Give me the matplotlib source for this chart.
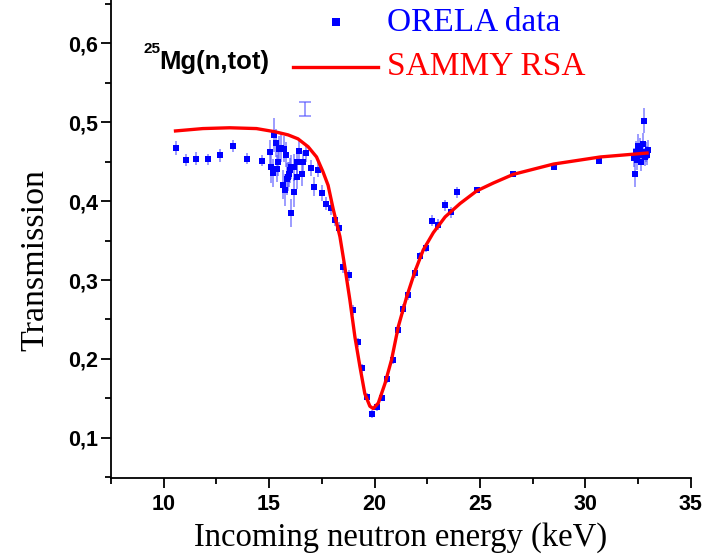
import matplotlib
matplotlib.use("Agg")
import matplotlib.pyplot as plt
from matplotlib.ticker import MultipleLocator, FuncFormatter
from matplotlib.lines import Line2D

# ORELA measured transmission data (energy keV, transmission, uncertainty)
energy = [10.56, 11.04, 11.54, 12.08, 12.65, 13.28, 13.94, 14.65,
          15.22, 15.31, 15.46, 15.55, 15.71, 15.06, 15.82, 15.42, 15.11, 15.19,
          15.36, 15.98, 16.06, 16.18, 15.90, 15.85, 15.95, 16.30, 16.34, 16.41,
          16.61, 16.56, 15.68, 15.74, 16.18, 16.77, 16.98, 17.13, 17.32, 16.03,
          17.51, 17.70, 17.93, 18.12, 18.32,
          18.51, 18.78, 18.99, 19.20, 19.42, 19.65, 19.86, 20.13, 20.37, 20.60,
          20.86, 21.10, 21.36, 21.60, 21.92, 22.16, 22.44, 22.74, 23.03, 23.35,
          23.63, 23.93, 24.88, 26.59, 28.52, 30.67,
          32.30, 32.34, 32.40, 32.45, 32.50, 32.55, 32.60, 32.65, 32.70, 32.75,
          32.80, 32.85, 32.90, 32.95, 32.98]
transmission = [0.467, 0.452, 0.454, 0.453, 0.458, 0.470, 0.454, 0.451,
                0.484, 0.474, 0.466, 0.467, 0.466, 0.462, 0.459, 0.450, 0.443, 0.436,
                0.441, 0.439, 0.443, 0.443, 0.431, 0.428, 0.434, 0.431, 0.450, 0.464,
                0.450, 0.435, 0.421, 0.414, 0.411, 0.461, 0.442, 0.418, 0.440, 0.385,
                0.410, 0.397, 0.391, 0.376, 0.366,
                0.316, 0.306, 0.262, 0.221, 0.188, 0.152, 0.130, 0.139, 0.151, 0.174,
                0.199, 0.237, 0.263, 0.281, 0.309, 0.330, 0.341, 0.375, 0.370, 0.395,
                0.386, 0.411, 0.414, 0.434, 0.443, 0.451,
                0.455, 0.434, 0.462, 0.452, 0.470, 0.458, 0.466, 0.450, 0.460, 0.472,
                0.502, 0.456, 0.462, 0.458, 0.465]
uncertainty = [0.009, 0.008, 0.008, 0.007, 0.008, 0.008, 0.007, 0.007,
               0.022, 0.018, 0.016, 0.018, 0.017, 0.015, 0.016, 0.018, 0.020, 0.018,
               0.017, 0.016, 0.015, 0.017, 0.018, 0.020, 0.016, 0.015, 0.016, 0.012,
               0.014, 0.016, 0.018, 0.020, 0.018, 0.012, 0.010, 0.012, 0.010, 0.018,
               0.010, 0.008, 0.008, 0.008, 0.008,
               0.007, 0.007, 0.006, 0.006, 0.006, 0.005, 0.005, 0.005, 0.005, 0.005,
               0.006, 0.006, 0.006, 0.006, 0.006, 0.006, 0.006, 0.007, 0.007, 0.007,
               0.007, 0.007, 0.004, 0.004, 0.004, 0.003,
               0.012, 0.016, 0.014, 0.012, 0.015, 0.012, 0.014, 0.012, 0.013, 0.014,
               0.016, 0.012, 0.013, 0.012, 0.012]

# isolated error bar (marker not visible in the original)
outlier_energy = [16.70]
outlier_trans = [0.517]
outlier_unc = [0.009]

# SAMMY RSA fit curve
fit_energy = [10.56, 11.86, 13.13, 14.40, 15.27, 15.90, 16.37, 16.85, 17.25, 17.56,
              17.80, 18.04, 18.36, 18.59, 18.83, 19.07, 19.31, 19.54, 19.78, 19.94,
              20.18, 20.50, 20.81, 21.13, 21.53, 21.92, 22.31, 22.79, 23.35, 24.06,
              24.85, 25.64, 26.59, 28.49, 30.71, 32.93]
fit_trans = [0.489, 0.492, 0.493, 0.492, 0.488, 0.484, 0.479, 0.469, 0.456, 0.437,
             0.420, 0.390, 0.355, 0.317, 0.275, 0.228, 0.190, 0.156, 0.140, 0.137,
             0.144, 0.169, 0.199, 0.241, 0.279, 0.311, 0.338, 0.360, 0.380, 0.397,
             0.413, 0.423, 0.434, 0.447, 0.456, 0.461]

x_ticks = [10, 15, 20, 25, 30, 35]
y_ticks = [0.1, 0.2, 0.3, 0.4, 0.5, 0.6]

W, H = 710, 558
fig = plt.figure(figsize=(W / 100, H / 100), dpi=100)
ax = fig.add_axes([111 / W, 1 - 478 / H, (690.7 - 111) / W, 478 / H])

err_col = (0.3, 0.3, 1.0, 0.7)
ax.errorbar(energy, transmission, yerr=uncertainty, fmt='s', color='#0000ff',
            markersize=5.0, markeredgewidth=0, ecolor=err_col,
            elinewidth=1.1, capsize=4.2, capthick=1.1, zorder=2)
ax.errorbar(outlier_energy, outlier_trans, yerr=outlier_unc, fmt='none',
            ecolor=err_col, elinewidth=1.1, capsize=4.2,
            capthick=1.1, zorder=2)
ax.plot(fit_energy, fit_trans, color='#ff0000', linewidth=2.4, zorder=3)

ax.set_xlim(7.5, 35)
ax.set_ylim(0.049, 0.655)
ax.set_xticks(x_ticks)
ax.set_yticks(y_ticks)
ax.xaxis.set_minor_locator(MultipleLocator(2.5))
ax.yaxis.set_minor_locator(MultipleLocator(0.05))
ax.yaxis.set_major_formatter(FuncFormatter(lambda v, p: f"{v:.1f}".replace('.', ',')))
ax.xaxis.set_major_formatter(FuncFormatter(lambda v, p: f"{v:.0f}"))

for s in ['top', 'right']:
    ax.spines[s].set_visible(False)
for s in ['left', 'bottom']:
    ax.spines[s].set_linewidth(1.3)

ax.tick_params(which='major', direction='out', length=7, width=1.3)
ax.tick_params(axis='x', which='major', pad=4.5)
ax.tick_params(axis='y', which='major', pad=2.5)
ax.tick_params(which='minor', direction='out', length=4, width=1.3)
for lab in ax.get_xticklabels() + ax.get_yticklabels():
    lab.set_fontfamily('Liberation Sans')
    lab.set_fontweight('bold')
    lab.set_fontsize(15.5)

ax.set_xlabel('Incoming neutron energy (keV)', fontfamily='Liberation Serif',
              fontsize=23.5, labelpad=5)
ax.set_ylabel('Transmission', fontfamily='Liberation Serif', fontsize=24.5)
ax.yaxis.set_label_coords((50 - 111) / (690.7 - 111), 1 - 260 / 478)

# legend / annotation drawn in figure pixel coordinates
def fx(px):
    return px / W

def fy(py):
    return 1 - py / H

fig.add_artist(Line2D([fx(336)], [fy(22)], marker='s', color='#0000ff',
                      markersize=5.5, markeredgewidth=0, linestyle='none'))
fig.add_artist(Line2D([fx(293), fx(378)], [fy(67), fy(67)], color='#ff0000',
                      linewidth=2.4))
fig.text(fx(387), fy(23), 'ORELA data', color='#0000ff', fontsize=24,
         fontfamily='Liberation Serif', va='center', ha='left')
fig.text(fx(387), fy(67), 'SAMMY RSA', color='#ff0000', fontsize=24,
         fontfamily='Liberation Serif', va='center', ha='left')
fig.text(fx(144), fy(49), '25', fontsize=11, fontweight='bold',
         fontfamily='Liberation Sans', va='center', ha='left')
fig.text(fx(159), fy(62), 'Mg(n,tot)', fontsize=18.5, fontweight='bold',
         fontfamily='Liberation Sans', va='center', ha='left')

fig.savefig('out.png', dpi=100)
